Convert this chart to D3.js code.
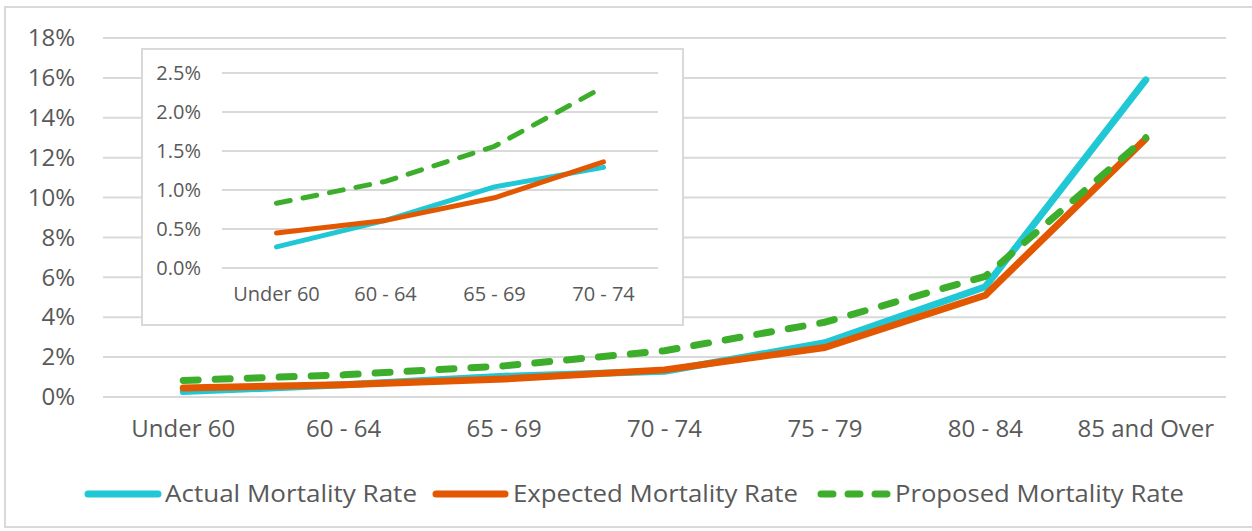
<!DOCTYPE html>
<html>
<head>
<meta charset="utf-8">
<script src="https://cdn.jsdelivr.net/npm/d3@7"></script>
<style>
  html, body { margin: 0; padding: 0; background: #fff; }
  svg { display: block; }
  text { font-family: "Open Sans", "Noto Sans", sans-serif; fill: #595959; }
</style>
</head>
<body>
<svg id="chart" width="1252" height="531"></svg>
<script>
// Age bands and mortality rates (in percent)
const categories = ["Under 60", "60 - 64", "65 - 69", "70 - 74", "75 - 79", "80 - 84", "85 and Over"];
const actualRate   = [0.27, 0.61, 1.04, 1.29, 2.72, 5.53, 15.9];
const expectedRate = [0.45, 0.61, 0.90, 1.36, 2.48, 5.10, 12.95];
const proposedRate = [0.83, 1.11, 1.56, 2.32, 3.75, 6.05, 13.0];

const mainTicks  = [0, 2, 4, 6, 8, 10, 12, 14, 16, 18];
const insetTicks = [0, 0.5, 1.0, 1.5, 2.0, 2.5];
const insetCount = 4; // first four age bands shown in the zoomed panel

const seriesNames = ["Actual Mortality Rate", "Expected Mortality Rate", "Proposed Mortality Rate"];

const colors = { actual: "#1fc8d4", expected: "#e35700", proposed: "#3dae2b", grid: "#d9d9d9" };

const series = [
  { key: "actual",   name: seriesNames[0], values: actualRate,   dash: null },
  { key: "expected", name: seriesNames[1], values: expectedRate, dash: null },
  { key: "proposed", name: seriesNames[2], values: proposedRate, dash: true }
];

const svg = d3.select("#chart");
const FONT = '"Open Sans", "Noto Sans", sans-serif';

// outer frame
svg.append("rect")
  .attr("x", 5).attr("y", 7).attr("width", 1260).attr("height", 520)
  .attr("fill", "#fff").attr("stroke", colors.grid).attr("stroke-width", 2);

// ---------- main chart ----------
const x = d3.scaleBand().domain(categories).range([103, 1226]);
const y = d3.scaleLinear().domain([0, 18]).range([397, 38]);

const gMain = svg.append("g");

gMain.append("g").selectAll("line").data(mainTicks).join("line")
  .attr("x1", 103).attr("x2", 1226)
  .attr("y1", d => y(d)).attr("y2", d => y(d))
  .attr("stroke", colors.grid).attr("stroke-width", 2);

const yAxis = d3.axisLeft(y).tickValues(mainTicks).tickFormat(d => d + "%").tickSize(0).tickPadding(0);
gMain.append("g").attr("transform", "translate(75,0)").call(yAxis)
  .call(g => g.select(".domain").remove())
  .call(g => g.selectAll("text").attr("font-size", 24).attr("fill", "#595959").attr("font-family", FONT));

const xAxis = d3.axisBottom(x).tickSize(0).tickPadding(0);
gMain.append("g").attr("transform", "translate(0,420)").call(xAxis)
  .call(g => g.select(".domain").remove())
  .call(g => g.selectAll("text").attr("font-size", 24).attr("fill", "#595959").attr("font-family", FONT));

const lineMain = d3.line()
  .x((d, i) => x(categories[i]) + x.bandwidth() / 2)
  .y(d => y(d));

gMain.append("g").selectAll("path").data(series).join("path")
  .attr("d", s => lineMain(s.values))
  .attr("fill", "none")
  .attr("stroke", s => colors[s.key])
  .attr("stroke-width", 7)
  .attr("stroke-linejoin", "round")
  .attr("stroke-linecap", "round")
  .attr("stroke-dasharray", s => s.dash ? "15,17" : null);

// ---------- inset (first four age bands) ----------
const insetCats = categories.slice(0, insetCount);
const gInset = svg.append("g");

gInset.append("rect")
  .attr("x", 142).attr("y", 49).attr("width", 541).attr("height", 276)
  .attr("fill", "#fff").attr("stroke", colors.grid).attr("stroke-width", 2);

const x2 = d3.scaleBand().domain(insetCats).range([222, 658]);
const y2 = d3.scaleLinear().domain([0, 2.5]).range([268, 73]);

gInset.append("g").selectAll("line").data(insetTicks).join("line")
  .attr("x1", 222).attr("x2", 658)
  .attr("y1", d => y2(d)).attr("y2", d => y2(d))
  .attr("stroke", colors.grid).attr("stroke-width", 2);

const yAxis2 = d3.axisLeft(y2).tickValues(insetTicks).tickFormat(d => d.toFixed(1) + "%").tickSize(0).tickPadding(0);
gInset.append("g").attr("transform", "translate(201,0)").call(yAxis2)
  .call(g => g.select(".domain").remove())
  .call(g => g.selectAll("text").attr("font-size", 20).attr("fill", "#595959").attr("font-family", FONT));

const xAxis2 = d3.axisBottom(x2).tickSize(0).tickPadding(0);
gInset.append("g").attr("transform", "translate(0,287)").call(xAxis2)
  .call(g => g.select(".domain").remove())
  .call(g => g.selectAll("text").attr("font-size", 20).attr("fill", "#595959").attr("font-family", FONT));

const lineInset = d3.line()
  .x((d, i) => x2(insetCats[i]) + x2.bandwidth() / 2)
  .y(d => y2(d));

gInset.append("g").selectAll("path").data(series).join("path")
  .attr("d", s => lineInset(s.values.slice(0, insetCount)))
  .attr("fill", "none")
  .attr("stroke", s => colors[s.key])
  .attr("stroke-width", 5)
  .attr("stroke-linejoin", "round")
  .attr("stroke-linecap", "round")
  .attr("stroke-dasharray", s => s.dash ? "14,13" : null);

// ---------- legend ----------
const legendItems = [
  { s: series[0], x1: 88,  x2: 158, tx: 165, tw: 252 },
  { s: series[1], x1: 436, x2: 505, tx: 513, tw: 285 },
  { s: series[2], x1: 821, x2: 887, tx: 895, tw: 289 }
];
const gLegend = svg.append("g");
const legendY = 494;
legendItems.forEach(it => {
  gLegend.append("line")
    .attr("x1", it.x1).attr("x2", it.x2)
    .attr("y1", legendY).attr("y2", legendY)
    .attr("stroke", colors[it.s.key]).attr("stroke-width", 7)
    .attr("stroke-linecap", "round")
    .attr("stroke-dasharray", it.s.dash ? "12,15" : null);
  gLegend.append("text")
    .attr("x", it.tx).attr("y", legendY)
    .attr("dy", "0.35em")
    .attr("font-size", 24)
    .attr("textLength", it.tw)
    .attr("lengthAdjust", "spacingAndGlyphs")
    .text(it.s.name);
});
</script>
</body>
</html>
